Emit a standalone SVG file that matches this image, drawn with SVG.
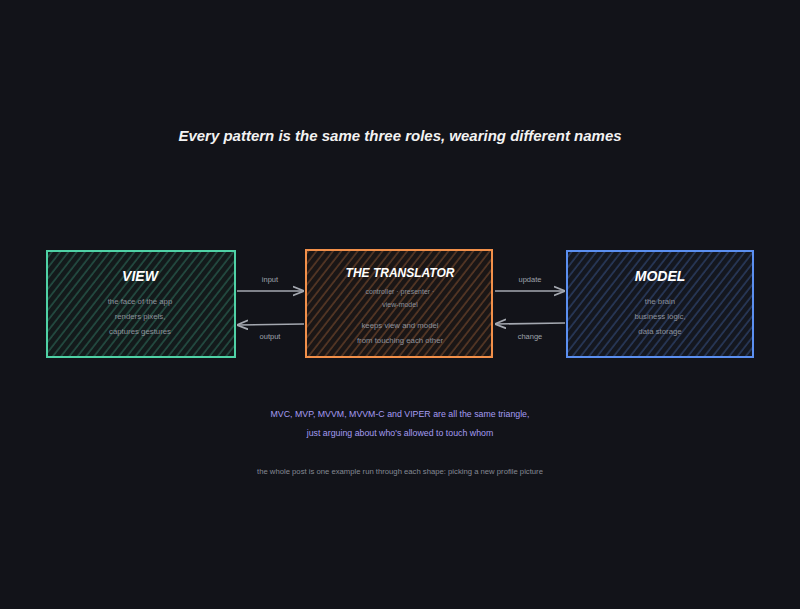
<svg xmlns="http://www.w3.org/2000/svg" width="800" height="609" viewBox="0 0 800 609">
<style>
.bg{fill:#121319}
.title{font-family:"Liberation Sans",Arial,sans-serif;font-size:15px;font-style:italic;font-weight:bold;fill:#f2f2f2;text-anchor:middle}
.head{font-family:"Liberation Sans",Arial,sans-serif;font-style:italic;font-weight:bold;fill:#ffffff;text-anchor:middle}
.sub{font-family:"Liberation Sans",Arial,sans-serif;font-size:7.8px;fill:#8d919b;text-anchor:middle}
.small{font-family:"Liberation Sans",Arial,sans-serif;font-size:7px;fill:#8d919b;text-anchor:middle}
.lbl{font-family:"Liberation Sans",Arial,sans-serif;font-size:7.5px;fill:#9ea2ab;text-anchor:middle}
.note{font-family:"Liberation Sans",Arial,sans-serif;font-size:8.8px;fill:#a49cf2;text-anchor:middle}
.foot{font-family:"Liberation Sans",Arial,sans-serif;font-size:7.7px;fill:#858994;text-anchor:middle}
.conn{stroke:#a4a8b0;stroke-width:1.6;fill:none}
</style>
<defs>
<pattern id="hg" width="6.5" height="10" patternUnits="userSpaceOnUse" patternTransform="rotate(38)"><line x1="1" y1="0" x2="1" y2="10" stroke="#4fd1a5" stroke-opacity="0.6" stroke-width="0.8"/></pattern>
<pattern id="ho" width="6.5" height="10" patternUnits="userSpaceOnUse" patternTransform="rotate(38)"><line x1="1" y1="0" x2="1" y2="10" stroke="#f2904a" stroke-opacity="0.6" stroke-width="0.8"/></pattern>
<pattern id="hb" width="6.5" height="10" patternUnits="userSpaceOnUse" patternTransform="rotate(38)"><line x1="1" y1="0" x2="1" y2="10" stroke="#5b8ff0" stroke-opacity="0.6" stroke-width="0.8"/></pattern>
<marker id="ah" viewBox="0 0 10 10" refX="9" refY="5" markerWidth="7" markerHeight="7" orient="auto-start-reverse"><path d="M0,1 L10,5 L0,9" fill="none" stroke="#a4a8b0" stroke-width="1.6"/></marker>
</defs>
<rect class="bg" x="0" y="0" width="800" height="609"/>
<text class="title" x="400" y="141">Every pattern is the same three roles, wearing different names</text>

<g id="connectors">
<line class="conn" x1="237" y1="291" x2="303" y2="291" marker-end="url(#ah)"/>
<text class="lbl" x="270" y="282">input</text>
<line class="conn" x1="304" y1="324" x2="238" y2="325" marker-end="url(#ah)"/>
<text class="lbl" x="270" y="339">output</text>
<line class="conn" x1="495" y1="291" x2="564" y2="291" marker-end="url(#ah)"/>
<text class="lbl" x="530" y="282">update</text>
<line class="conn" x1="565" y1="323" x2="496" y2="324" marker-end="url(#ah)"/>
<text class="lbl" x="530" y="339">change</text>
</g>

<g id="view">
<rect x="47" y="251" width="188" height="106" fill="#131a1b"/>
<rect x="47" y="251" width="188" height="106" fill="url(#hg)" stroke="#4fd1a5" stroke-width="2"/>
<text class="head" x="140" y="281" font-size="14">VIEW</text>
<text class="sub" x="140" y="304">the face of the app</text>
<text class="sub" x="140" y="319">renders pixels,</text>
<text class="sub" x="140" y="334">captures gestures</text>
</g>

<g id="translator">
<rect x="306" y="250" width="186" height="107" fill="#1a1616"/>
<rect x="306" y="250" width="186" height="107" fill="url(#ho)" stroke="#f2904a" stroke-width="2"/>
<text class="head" x="400" y="277" font-size="12">THE TRANSLATOR</text>
<text class="small" x="400" y="294">controller · presenter ·</text>
<text class="small" x="400" y="307">view-model</text>
<text class="sub" x="400" y="328">keeps view and model</text>
<text class="sub" x="400" y="343">from touching each other</text>
</g>

<g id="model">
<rect x="567" y="251" width="186" height="106" fill="#14171f"/>
<rect x="567" y="251" width="186" height="106" fill="url(#hb)" stroke="#5b8ff0" stroke-width="2"/>
<text class="head" x="660" y="281" font-size="14">MODEL</text>
<text class="sub" x="660" y="304">the brain</text>
<text class="sub" x="660" y="319">business logic,</text>
<text class="sub" x="660" y="334">data storage</text>
</g>

<text class="note" x="400" y="417">MVC, MVP, MVVM, MVVM-C and VIPER are all the same triangle,</text>
<text class="note" x="400" y="436">just arguing about who's allowed to touch whom</text>
<text class="foot" x="400" y="474">the whole post is one example run through each shape: picking a new profile picture</text>
</svg>
